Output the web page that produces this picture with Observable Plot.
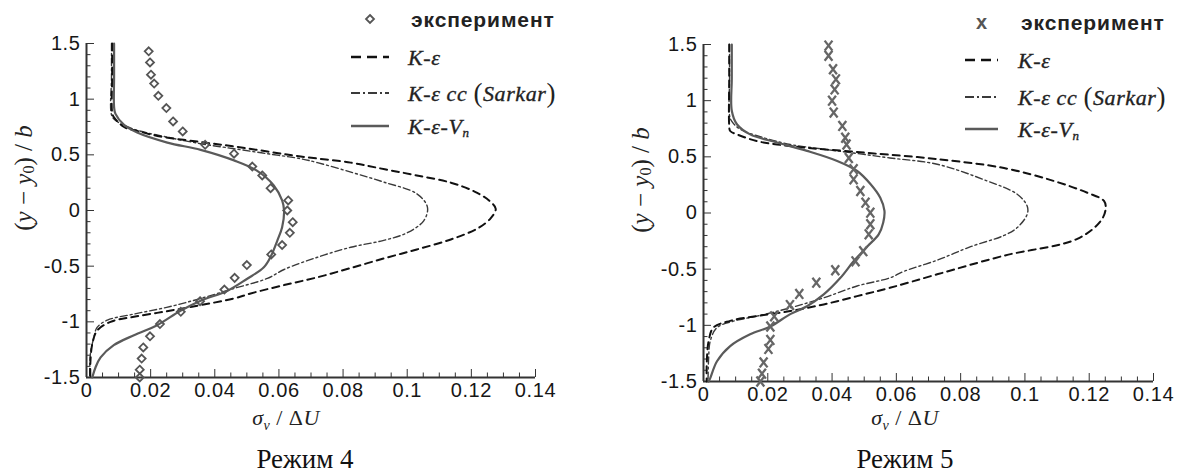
<!DOCTYPE html>
<html>
<head>
<meta charset="utf-8">
<script src="https://cdn.jsdelivr.net/npm/d3@7"></script>
<script src="https://cdn.jsdelivr.net/npm/@observablehq/plot@0.6"></script>
<style>
  html, body { margin: 0; padding: 0; background: #fff; }
  #root { position: relative; width: 1183px; height: 476px; overflow: hidden; background: #fff; }
  .panel { position: absolute; top: 0; }
  #overlay { position: absolute; left: 0; top: 0; pointer-events: none; }
</style>
</head>
<body>
<div id="root">
  <div id="p4" class="panel" style="left:0px"></div>
  <div id="p5" class="panel" style="left:590px"></div>
</div>
<script>
// ---- Tick values ----
const xMajor = [0, 0.02, 0.04, 0.06, 0.08, 0.1, 0.12, 0.14];
const xMinor = [0.005, 0.01, 0.015, 0.025, 0.03, 0.035, 0.045, 0.05, 0.055, 0.065, 0.07, 0.075,
                0.085, 0.09, 0.095, 0.105, 0.11, 0.115, 0.125, 0.13, 0.135];
const yMajor = [-1.5, -1, -0.5, 0, 0.5, 1, 1.5];
const yMinor = [-1.4, -1.3, -1.2, -1.1, -0.9, -0.8, -0.7, -0.6, -0.4, -0.3, -0.2, -0.1,
                0.1, 0.2, 0.3, 0.4, 0.6, 0.7, 0.8, 0.9, 1.1, 1.2, 1.3, 1.4];

// ---- Series names ----
const seriesNames = ["эксперимент", "K-ε", "K-ε cc (Sarkar)", "K-ε-Vn"];
const captions = ["Режим 4", "Режим 5"];

// ---- Режим 4 : [sigma_v/dU, (y-y0)/b] ----
const exp4 = [[0.0194,1.43],[0.0198,1.33],[0.0201,1.22],[0.0211,1.14],[0.0224,1.03],[0.0249,0.92],
  [0.027,0.80],[0.030,0.71],[0.037,0.59],[0.046,0.51],[0.0517,0.395],[0.0548,0.315],[0.0574,0.20],
  [0.0629,0.09],[0.0626,0.0],[0.0643,-0.105],[0.0634,-0.20],[0.061,-0.31],[0.0576,-0.395],[0.050,-0.49],
  [0.0462,-0.605],[0.043,-0.71],[0.0354,-0.815],[0.0294,-0.91],[0.0229,-1.02],[0.0198,-1.13],
  [0.0177,-1.23],[0.0172,-1.33],[0.0166,-1.43],[0.0166,-1.5]];
const ke4 = [[0.008,1.5],[0.008,1.2],[0.008,0.88],[0.0085,0.84],[0.0117,0.75],[0.0158,0.715],[0.023,0.665],
  [0.0356,0.615],[0.046,0.575],[0.0564,0.53],[0.0668,0.485],[0.0824,0.43],[0.093,0.37],[0.103,0.315],
  [0.1136,0.25],[0.121,0.17],[0.1255,0.09],[0.1276,0.015],[0.126,-0.07],[0.122,-0.16],[0.1136,-0.26],
  [0.103,-0.35],[0.0928,-0.43],[0.082,-0.52],[0.072,-0.60],[0.0616,-0.67],[0.0512,-0.745],[0.046,-0.79],
  [0.0356,-0.85],[0.025,-0.905],[0.0148,-0.955],[0.0075,-1.0],[0.0033,-1.08],[0.0018,-1.2],[0.0012,-1.37],[0.0012,-1.5]];
const cc4 = [[0.0078,1.5],[0.0078,1.2],[0.0078,0.86],[0.009,0.81],[0.0148,0.73],[0.025,0.66],[0.0356,0.60],
  [0.046,0.555],[0.0564,0.51],[0.0668,0.465],[0.072,0.43],[0.083,0.34],[0.0928,0.254],[0.103,0.15],
  [0.1063,0.03],[0.1052,-0.09],[0.100,-0.2],[0.0924,-0.27],[0.0824,-0.33],[0.072,-0.42],[0.0616,-0.53],
  [0.0564,-0.61],[0.046,-0.70],[0.0356,-0.79],[0.025,-0.87],[0.0148,-0.93],[0.0065,-0.985],[0.0033,-1.05],
  [0.0023,-1.14],[0.0012,-1.29],[0.001,-1.5]];
const vn4 = [[0.0086,1.5],[0.0086,1.2],[0.0086,0.93],[0.009,0.87],[0.0117,0.77],[0.0158,0.70],[0.0252,0.61],
  [0.0356,0.545],[0.046,0.45],[0.053,0.36],[0.0584,0.225],[0.061,0.09],[0.0616,0],[0.061,-0.15],
  [0.0595,-0.27],[0.0576,-0.405],[0.0553,-0.51],[0.050,-0.615],[0.044,-0.72],[0.0356,-0.81],[0.0293,-0.90],
  [0.022,-1.03],[0.0148,-1.12],[0.0085,-1.21],[0.0044,-1.32],[0.0028,-1.41],[0.0018,-1.5]];

// ---- Режим 5 ----
const exp5 = [[0.0389,1.49],[0.0389,1.40],[0.0403,1.28],[0.0412,1.19],[0.0408,1.10],[0.040,1.00],
  [0.0405,0.894],[0.0432,0.775],[0.0441,0.67],[0.0445,0.61],[0.0452,0.49],[0.0467,0.39],[0.0467,0.30],
  [0.0488,0.196],[0.0504,0.092],[0.0519,0.003],[0.0519,-0.10],[0.0514,-0.19],[0.0497,-0.34],[0.0473,-0.43],
  [0.041,-0.51],[0.0351,-0.62],[0.0298,-0.72],[0.0269,-0.82],[0.022,-0.92],[0.0208,-1.01],[0.0208,-1.13],
  [0.0202,-1.21],[0.0187,-1.33],[0.0182,-1.43],[0.0177,-1.5]];
const ke5 = [[0.008,1.5],[0.008,1.2],[0.008,0.78],[0.0083,0.73],[0.0104,0.70],[0.0166,0.64],[0.0229,0.61],
  [0.0322,0.58],[0.0426,0.555],[0.053,0.53],[0.0727,0.48],[0.0935,0.40],[0.109,0.285],[0.1194,0.18],
  [0.1246,0.107],[0.1251,0.033],[0.1236,-0.07],[0.1163,-0.23],[0.0935,-0.38],[0.0727,-0.546],[0.058,-0.666],
  [0.0478,-0.74],[0.0374,-0.814],[0.027,-0.873],[0.0166,-0.918],[0.0083,-0.96],[0.0031,-1.02],[0.0016,-1.14],
  [0.001,-1.35],[0.001,-1.5]];
const cc5 = [[0.0081,1.5],[0.0081,1.2],[0.0081,0.87],[0.0087,0.82],[0.0114,0.746],[0.0187,0.67],[0.027,0.61],
  [0.0374,0.568],[0.0478,0.53],[0.058,0.49],[0.0727,0.434],[0.0883,0.285],[0.0976,0.167],[0.1007,0.062],
  [0.1007,-0.012],[0.0976,-0.13],[0.0935,-0.2],[0.0831,-0.30],[0.0727,-0.42],[0.0623,-0.52],[0.058,-0.577],
  [0.0478,-0.65],[0.0374,-0.755],[0.027,-0.844],[0.0166,-0.918],[0.0093,-0.963],[0.0042,-1.02],[0.0021,-1.14],
  [0.0016,-1.29],[0.0014,-1.5]];
const vn5 = [[0.0088,1.5],[0.0088,1.2],[0.0088,0.91],[0.0104,0.79],[0.0145,0.70],[0.0229,0.627],[0.0322,0.553],
  [0.0416,0.463],[0.0478,0.374],[0.052,0.256],[0.055,0.136],[0.0563,0.018],[0.0559,-0.086],[0.0545,-0.19],
  [0.0509,-0.30],[0.0467,-0.43],[0.0426,-0.577],[0.0374,-0.725],[0.0322,-0.83],[0.027,-0.90],[0.0208,-1.01],
  [0.0145,-1.08],[0.0083,-1.185],[0.0042,-1.32],[0.0021,-1.47],[0.0016,-1.5]];

const SOLID = "#5a5a5a", DASH = "#111", DASHDOT = "#3a3a3a";

// custom "X" marker shape (taller than wide, like the letter X)
const xSymbol = {
  draw(context, size) {
    const w = Math.sqrt(size) * 0.55, h = Math.sqrt(size) * 0.7;
    context.moveTo(-w, -h); context.lineTo(w, h);
    context.moveTo(w, -h); context.lineTo(-w, h);
  }
};

function panel(exp, expMarks, ke, cc, vn, dims) {
  const X = d => d[0], Y = d => d[1];
  return Plot.plot({
    width: dims.w, height: 430,
    marginLeft: dims.ml, marginRight: dims.mr, marginTop: dims.mt, marginBottom: dims.mb,
    style: {fontFamily: "'Liberation Sans', Arial, sans-serif", fontSize: "20px", color: "#161616",
            background: "transparent", overflow: "visible", letterSpacing: "0.6px"},
    x: {domain: [0, 0.14]},
    y: {domain: [-1.5, 1.5]},
    marks: [
      Plot.axisX({ticks: xMinor, tickSize: -4.5, fill: "none", label: null, stroke: "#333"}),
      Plot.axisX({ticks: xMajor, tickSize: -8, fill: "none", label: null, stroke: "#333"}),
      Plot.axisX({ticks: xMajor, tickSize: 0, tickPadding: 5, tickFormat: d => String(d), label: null}),
      Plot.axisY({ticks: yMinor, tickSize: -4.5, fill: "none", label: null, stroke: "#333"}),
      Plot.axisY({ticks: yMajor, tickSize: -8, fill: "none", label: null, stroke: "#333"}),
      Plot.axisY({ticks: yMajor, tickSize: 0, tickPadding: 6, tickFormat: d => String(d), label: null}),
      Plot.ruleX([0], {stroke: "#333", strokeWidth: 2}),
      Plot.ruleY([-1.5], {stroke: "#333", strokeWidth: 2}),
      Plot.line(cc, {x: X, y: Y, curve: "catmull-rom", stroke: DASHDOT, strokeWidth: 1.4, strokeDasharray: "7,3,2,3"}),
      Plot.line(ke, {x: X, y: Y, curve: "catmull-rom", stroke: DASH, strokeWidth: 2, strokeDasharray: "7,5"}),
      Plot.line(vn, {x: X, y: Y, curve: "catmull-rom", stroke: SOLID, strokeWidth: 2.2}),
      ...expMarks(exp, X, Y)
    ]
  });
}

const diamonds = (data, X, Y) => [Plot.dot(data, {x: X, y: Y, symbol: "diamond2", r: 3.6, stroke: "#555", strokeWidth: 1.8, fill: "none"})];
const crosses = (data, X, Y) => [Plot.dot(data, {x: X, y: Y, symbol: xSymbol, r: 4, stroke: "#666", strokeWidth: 2.3, fill: "none"})];

document.getElementById("p4").appendChild(panel(exp4, diamonds, ke4, cc4, vn4, {w: 590, ml: 86, mr: 55, mt: 43, mb: 53}));
document.getElementById("p5").appendChild(panel(exp5, crosses, ke5, cc5, vn5, {w: 593, ml: 113, mr: 30, mt: 44, mb: 49}));

// ---- Overlay: axis titles, legends, captions ----
const ov = d3.select("#root").append("svg").attr("id", "overlay").attr("width", 1183).attr("height", 476);
const serif = "'Liberation Serif', 'Times New Roman', serif";
const sans = "'Liberation Sans', Arial, sans-serif";

function yTitle(cx, cy) {
  const t = ov.append("text").attr("transform", `translate(${cx},${cy}) rotate(-90)`)
    .attr("text-anchor", "middle").attr("dominant-baseline", "central")
    .attr("font-family", serif).attr("font-size", 25).attr("fill", "#222");
  t.append("tspan").text("(");
  t.append("tspan").attr("font-style", "italic").text("y");
  t.append("tspan").text(" − ");
  t.append("tspan").attr("font-style", "italic").text("y");
  t.append("tspan").attr("font-size", 16).attr("dy", 5).text("0");
  t.append("tspan").attr("dy", -5).text(")");
  t.append("tspan").text(" / ");
  t.append("tspan").attr("font-style", "italic").text("b");
}
function xTitle(cx, by) {
  const t = ov.append("text").attr("x", cx).attr("y", by).attr("text-anchor", "middle")
    .attr("font-family", serif).attr("font-size", 22).attr("letter-spacing", 0.5).attr("fill", "#222");
  t.append("tspan").attr("font-style", "italic").text("σ");
  t.append("tspan").attr("font-style", "italic").attr("font-size", 14).attr("dy", 5).text("v");
  t.append("tspan").attr("dy", -5).text(" / Δ");
  t.append("tspan").attr("font-style", "italic").text("U");
}
function caption(cx, by, s) {
  ov.append("text").attr("x", cx).attr("y", by).attr("text-anchor", "middle")
    .attr("font-family", serif).attr("font-size", 27).attr("fill", "#111").text(s);
}
function legend(lx0, lx1, tx, ys, marker) {
  const mx = (lx0 + lx1) / 2;
  if (marker === "diamond") {
    ov.append("path").attr("d", `M${mx},${ys[0]-4}L${mx+4},${ys[0]}L${mx},${ys[0]+4}L${mx-4},${ys[0]}Z`)
      .attr("fill", "none").attr("stroke", "#555").attr("stroke-width", 1.8);
  } else {
    ov.append("text").attr("x", mx).attr("y", ys[0]).attr("text-anchor", "middle").attr("dominant-baseline", "central")
      .attr("font-family", sans).attr("font-weight", "bold").attr("font-size", 20).attr("fill", "#555").text("x");
  }
  ov.append("text").attr("x", tx + 3).attr("y", ys[0]).attr("dominant-baseline", "central")
    .attr("font-family", sans).attr("font-weight", "bold").attr("font-size", 21).attr("letter-spacing", 0.9)
    .attr("fill", "#222").text(seriesNames[0]);
  const styles = [
    {stroke: DASH, w: 2.6, dash: "10,6"},
    {stroke: DASHDOT, w: 2, dash: "9,3,2,3"},
    {stroke: SOLID, w: 2.6, dash: null}
  ];
  styles.forEach((s, i) => {
    const y = ys[i + 1];
    const l = ov.append("line").attr("x1", lx0).attr("x2", lx1).attr("y1", y).attr("y2", y)
      .attr("stroke", s.stroke).attr("stroke-width", s.w);
    if (s.dash) l.attr("stroke-dasharray", s.dash);
    const t = ov.append("text").attr("x", tx).attr("y", y).attr("dominant-baseline", "central")
      .attr("font-family", serif).attr("font-style", "italic").attr("font-size", 22).attr("letter-spacing", 0.6)
      .attr("fill", "#222").attr("stroke", "#222").attr("stroke-width", 0.35);
    if (i === 0) { t.text("K-ε"); }
    else if (i === 1) {
      t.append("tspan").text("K-ε cc ");
      t.append("tspan").attr("font-style", "normal").attr("font-size", 27).attr("stroke-width", 0).text("(");
      t.append("tspan").text("Sarkar");
      t.append("tspan").attr("font-style", "normal").attr("font-size", 27).attr("stroke-width", 0).text(")");
    } else {
      t.append("tspan").text("K-ε-V");
      t.append("tspan").attr("font-size", 13).attr("dy", 6).text("n");
    }
  });
}

yTitle(23, 178);
yTitle(640, 180);
xTitle(286, 425);
xTitle(905, 425);
caption(305, 468, captions[0]);
caption(905, 468, captions[1]);
legend(351, 389, 408, [19, 57, 93, 126], "diamond");
legend(965, 998, 1018, [22, 60, 97, 129], "cross");
</script>
</body>
</html>
